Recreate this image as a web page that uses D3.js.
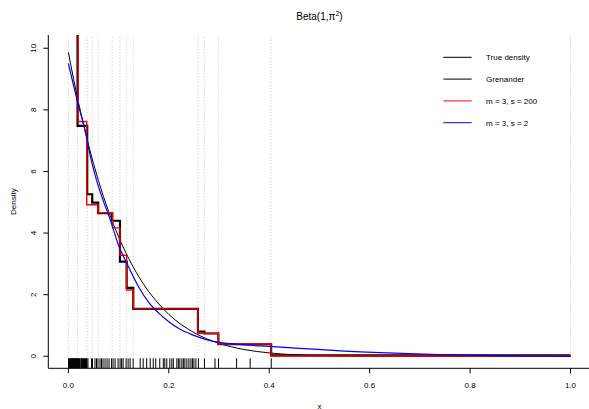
<!DOCTYPE html>
<html lang="en">
<head>
<meta charset="UTF-8">
<title>Beta(1,pi^2)</title>
<script src="https://d3js.org/d3.v7.min.js"></script>
<style>
  body { margin: 0; background: #fff; }
  text { font-family: "Liberation Sans", Arial, sans-serif; fill: #000; }
</style>
</head>
<body>
<svg class="chart" width="589" height="409"></svg>
<script>
// ---- data ----
// sample (rug)
var sample = [0.0005, 0.001, 0.002, 0.003, 0.004, 0.005, 0.006, 0.007, 0.008, 0.009, 0.010, 0.011,
  0.012, 0.013, 0.014, 0.015, 0.016, 0.017, 0.018, 0.019, 0.020, 0.021, 0.022, 0.023,
  0.025, 0.026, 0.027, 0.028, 0.030, 0.031, 0.032, 0.034, 0.035, 0.036, 0.037,
  0.039, 0.046, 0.048, 0.053, 0.056, 0.059, 0.063, 0.066, 0.069, 0.073, 0.077, 0.081,
  0.086, 0.089, 0.093, 0.099, 0.103, 0.106, 0.109, 0.115, 0.119, 0.123, 0.129, 0.143,
  0.149, 0.156, 0.163, 0.169, 0.174, 0.182, 0.189, 0.192, 0.196, 0.202, 0.206, 0.209,
  0.216, 0.219, 0.222, 0.226, 0.229, 0.232, 0.236, 0.240, 0.244, 0.247, 0.250, 0.254,
  0.259, 0.271, 0.292, 0.299, 0.335, 0.362, 0.404];

// true density Beta(1, pi^2)
var trueX = [0, 0.01, 0.02, 0.03, 0.04, 0.05, 0.06, 0.07, 0.08, 0.09, 0.10, 0.12, 0.14, 0.16,
  0.18, 0.20, 0.25, 0.30, 0.35, 0.40, 0.45, 0.50, 0.60, 0.70, 0.80, 1.00];
var trueY = [9.87, 9.03, 8.25, 7.53, 6.87, 6.26, 5.70, 5.18, 4.71, 4.28, 3.88, 3.18, 2.59, 2.10,
  1.70, 1.36, 0.77, 0.42, 0.22, 0.11, 0.05, 0.02, 0.003, 0, 0, 0];

// Grenander estimator (knots and step heights)
var grenKnots = [0, 0.0183, 0.0375, 0.0475, 0.0594, 0.0873, 0.1027, 0.116, 0.1292, 0.258, 0.2708, 0.2987, 0.4038, 1.0];
var grenVals = [14, 7.48, 5.26, 4.99, 4.65, 4.40, 3.07, 2.22, 1.54, 0.80, 0.74, 0.39, 0.03];

// m = 3, s = 200
var redKnots = [0, 0.0195, 0.0365, 0.059, 0.088, 0.1027, 0.116, 0.1292, 0.258, 0.2987, 0.4038, 1.0];
var redVals = [14, 7.62, 4.92, 4.66, 4.17, 3.28, 2.15, 1.54, 0.75, 0.40, 0.01];

// m = 3, s = 2
var blueX = [0, 0.02, 0.033, 0.045, 0.056, 0.069, 0.083, 0.10, 0.12, 0.14, 0.16, 0.18, 0.20,
  0.22, 0.25, 0.275, 0.30, 0.35, 0.40, 0.46, 0.55, 0.65, 0.75, 0.85, 1.00];
var blueY = [9.51, 8.15, 7.35, 6.4, 5.72, 5.07, 4.45, 3.6, 2.9, 2.25, 1.75, 1.4, 1.12,
  0.9, 0.68, 0.54, 0.45, 0.37, 0.32, 0.26, 0.17, 0.10, 0.05, 0.02, 0.0];

var xTicks = [0, 0.2, 0.4, 0.6, 0.8, 1.0];
var yTicks = [0, 2, 4, 6, 8, 10];
var legendLabels = ['True density', 'Grenander', 'm = 3, s = 200', 'm = 3, s = 2'];
var legendColors = ['#000', '#000', '#ff0000', '#0000ff'];

// ---- layout ----
var svg = d3.select('svg');
var plotLeft = 48.3, plotRight = 590.6, plotTop = 35, plotBottom = 368.3;

var xScale = d3.scaleLinear().domain([-0.04, 1.04]).range([plotLeft, plotRight]);
var yScale = d3.scaleLinear().domain([-0.39, 10.43]).range([plotBottom, plotTop]);

svg.append('defs').append('clipPath').attr('id', 'plotclip')
  .append('rect')
  .attr('x', plotLeft).attr('y', plotTop)
  .attr('width', plotRight - plotLeft).attr('height', plotBottom - plotTop);

var plot = svg.append('g').attr('clip-path', 'url(#plotclip)');

// dotted knot lines
plot.selectAll('line.knot').data(grenKnots)
  .enter().append('line')
  .attr('class', 'knot')
  .attr('x1', d => xScale(d)).attr('x2', d => xScale(d))
  .attr('y1', yScale(0)).attr('y2', plotTop)
  .attr('stroke', '#c8c8c8')
  .attr('stroke-width', 1)
  .attr('stroke-dasharray', '1,2');

// rug
plot.selectAll('line.rug').data(sample)
  .enter().append('line')
  .attr('class', 'rug')
  .attr('x1', d => xScale(d)).attr('x2', d => xScale(d))
  .attr('y1', plotBottom).attr('y2', plotBottom - 10)
  .attr('stroke', '#000')
  .attr('stroke-width', 1);

var smooth = d3.line()
  .x(d => xScale(d[0]))
  .y(d => yScale(d[1]))
  .curve(d3.curveMonotoneX);

var step = d3.line()
  .x(d => xScale(d[0]))
  .y(d => yScale(d[1]))
  .curve(d3.curveStepAfter);

function stepPoints(knots, vals) {
  var pts = vals.map((v, i) => [knots[i], v]);
  pts.push([knots[knots.length - 1], vals[vals.length - 1]]);
  return pts;
}

// true density
plot.append('path')
  .datum(trueX.map((x, i) => [x, trueY[i]]))
  .attr('d', smooth)
  .attr('fill', 'none').attr('stroke', '#000').attr('stroke-width', 1);

// grenander
plot.append('path')
  .datum(stepPoints(grenKnots, grenVals))
  .attr('d', step)
  .attr('fill', 'none').attr('stroke', '#000').attr('stroke-width', 2.2);

// m = 3, s = 200
plot.append('path')
  .datum(stepPoints(redKnots, redVals))
  .attr('d', step)
  .attr('fill', 'none').attr('stroke', '#ff0000').attr('stroke-width', 1.4);

// m = 3, s = 2
plot.append('path')
  .datum(blueX.map((x, i) => [x, blueY[i]]))
  .attr('d', smooth)
  .attr('fill', 'none').attr('stroke', '#0000ff').attr('stroke-width', 1.2);

// ---- axes (L-shaped box) ----
svg.append('path')
  .attr('d', `M${plotLeft},${plotTop}V${plotBottom}H${plotRight}`)
  .attr('fill', 'none').attr('stroke', '#000').attr('stroke-width', 1);

var xAxisG = svg.append('g').attr('transform', `translate(0,${plotBottom})`);
xAxisG.selectAll('line').data(xTicks)
  .enter().append('line')
  .attr('x1', d => xScale(d)).attr('x2', d => xScale(d))
  .attr('y1', 0).attr('y2', 5)
  .attr('stroke', '#000');
xAxisG.selectAll('text').data(xTicks)
  .enter().append('text')
  .attr('x', d => xScale(d)).attr('y', 19.3)
  .attr('text-anchor', 'middle')
  .style('font-size', '8px')
  .text(d => d3.format('.1f')(d));

var yAxisG = svg.append('g').attr('transform', `translate(${plotLeft},0)`);
yAxisG.selectAll('line').data(yTicks)
  .enter().append('line')
  .attr('x1', -5).attr('x2', 0)
  .attr('y1', d => yScale(d)).attr('y2', d => yScale(d))
  .attr('stroke', '#000');
yAxisG.selectAll('text').data(yTicks)
  .enter().append('text')
  .attr('transform', d => `translate(-12.8,${yScale(d)}) rotate(-90)`)
  .attr('text-anchor', 'middle')
  .style('font-size', '8px')
  .text(d => d);

// labels
svg.append('text')
  .attr('x', (plotLeft + plotRight) / 2).attr('y', 408.5)
  .attr('text-anchor', 'middle')
  .style('font-size', '8px')
  .text('x');

svg.append('text')
  .attr('transform', `translate(15.5,${(plotTop + plotBottom) / 2}) rotate(-90)`)
  .attr('text-anchor', 'middle')
  .style('font-size', '8px')
  .text('Density');

var title = svg.append('text')
  .attr('x', (plotLeft + plotRight) / 2).attr('y', 19.5)
  .attr('text-anchor', 'middle')
  .style('font-size', '10px');
title.append('tspan').text('Beta(1,\u03C0');
title.append('tspan').attr('dy', -4).style('font-size', '7px').text('2');
title.append('tspan').attr('dy', 4).text(')');

// legend
var legend = svg.append('g');
legendLabels.forEach((lab, i) => {
  var ly = 57.3 + i * 21.8;
  legend.append('line')
    .attr('x1', 443.3).attr('x2', 471.7)
    .attr('y1', ly).attr('y2', ly)
    .attr('stroke', legendColors[i]).attr('stroke-width', 1);
  legend.append('text')
    .attr('x', 486).attr('y', ly + 2.9)
    .style('font-size', '8px')
    .text(lab);
});
</script>
</body>
</html>
